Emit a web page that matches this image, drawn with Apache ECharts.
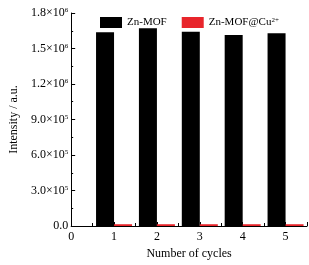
<!DOCTYPE html>
<html><head><meta charset="utf-8">
<script src="https://cdn.jsdelivr.net/npm/echarts@6/dist/echarts.min.js"></script>
<style>html,body{margin:0;padding:0;background:#fff}#c{width:309px;height:265px}</style>
</head><body><div id="c"></div>
<script>
const cycles = [1, 2, 3, 4, 5];
const znMOF = [1.637e6, 1.671e6, 1.642e6, 1.614e6, 1.628e6];
const znMOFCu = [1.5e4, 1.5e4, 1.5e4, 1.5e4, 1.5e4];
const yTickValues = [0, 3e5, 6e5, 9e5, 1.2e6, 1.5e6, 1.8e6];
const yTickLabels = ['0.0', '3.0×10{sup|5}', '6.0×10{sup|5}', '9.0×10{sup|5}', '1.2×10{sup|6}', '1.5×10{sup|6}', '1.8×10{sup|6}'];
const xTickLabels = ['0', '1', '2', '3', '4', '5'];

const font = 'Liberation Serif';
const chart = echarts.init(document.getElementById('c'));
chart.setOption({
  animation: false,
  backgroundColor: '#fff',
  textStyle: { fontFamily: font, color: '#000' },
  legend: {
    left: 95, top: 12, itemWidth: 22, itemHeight: 11, itemGap: 15,
    icon: 'rect',
    textStyle: { fontFamily: font, fontSize: 11, color: '#000',
      rich: { sup: { fontFamily: font, fontSize: 7, verticalAlign: 'top', padding: [0,0,4,0] } } },
    formatter: n => n.replace('2+', '{sup|2+}')
  },
  grid: { left: 66, right: 2, top: 13, bottom: 39, containLabel: false },
  xAxis: {
    type: 'value', min: 0, max: 5.5, interval: 1,
    name: 'Number of cycles', nameLocation: 'middle', nameGap: 22,
    nameTextStyle: { fontFamily: font, fontSize: 12, color: '#000', padding: [0, 0, 0, 0] },
    axisLine: { lineStyle: { color: '#000', width: 1 } },
    axisTick: { inside: true, length: 4, lineStyle: { color: '#000' } },
    minorTick: { show: true, splitNumber: 2, length: 3, lineStyle: { color: '#000' } },
    splitLine: { show: false },
    axisLabel: { fontFamily: font, fontSize: 12, color: '#000', margin: 5, showMaxLabel: false,
      formatter: v => { const i = xTickLabels.indexOf(String(v)); return i >= 0 ? xTickLabels[i] : ''; } }
  },
  yAxis: {
    type: 'value', min: 0, max: 1.8e6, interval: 3e5,
    name: 'Intensity / a.u.', nameLocation: 'middle', nameGap: 50,
    nameTextStyle: { fontFamily: font, fontSize: 12, color: '#000' },
    axisLine: { show: true, lineStyle: { color: '#000', width: 1 } },
    axisTick: { inside: true, length: 4, lineStyle: { color: '#000' } },
    minorTick: { show: true, splitNumber: 2, length: 2, lineStyle: { color: '#000' } },
    splitLine: { show: false },
    axisLabel: { fontFamily: font, fontSize: 12, color: '#000', margin: 3,
      rich: { sup: { fontFamily: font, fontSize: 7, verticalAlign: 'top', padding: [0,0,5,0] } },
      formatter: v => { const i = yTickValues.findIndex(t => Math.abs(t - v) < 1); return i >= 0 ? yTickLabels[i] : ''; } }
  },
  series: [
    { name: 'Zn-MOF', type: 'bar', barWidth: 18, barGap: '0%',
      itemStyle: { color: '#000' },
      data: cycles.map((c, i) => [c, znMOF[i]]) },
    { name: 'Zn-MOF@Cu2+', type: 'bar', barWidth: 18, barGap: '0%',
      itemStyle: { color: '#e8252b' },
      data: cycles.map((c, i) => [c, znMOFCu[i]]) }
  ]
});
</script></body></html>
